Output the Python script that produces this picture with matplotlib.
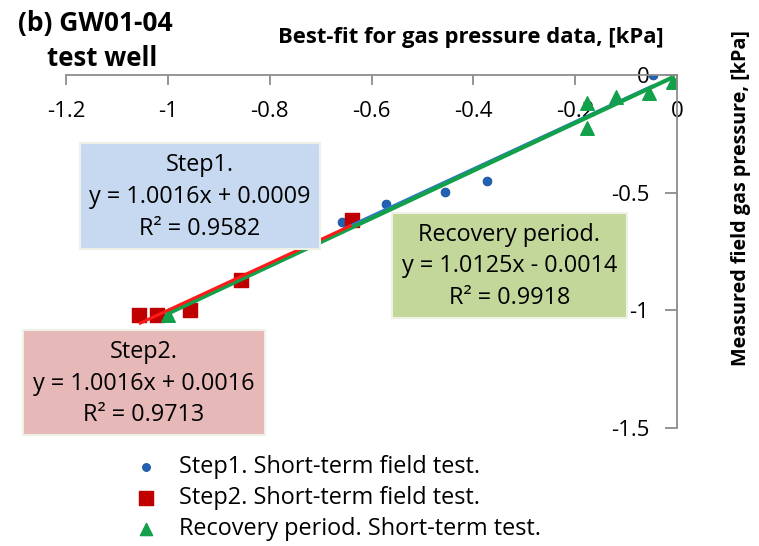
import numpy as np
import matplotlib
matplotlib.use("Agg")
import matplotlib.pyplot as plt
from matplotlib.patches import Rectangle

plt.rcParams['font.family'] = ['Open Sans', 'DejaVu Sans']

# data (kPa)
step1_x = [-0.047, -0.373, -0.455, -0.571, -0.657]
step1_y = [0.0, -0.451, -0.498, -0.549, -0.625]
step2_x = [-1.057, -1.022, -0.957, -0.857, -0.639]
step2_y = [-1.021, -1.021, -1.0, -0.872, -0.617]
recov_x = [-1.0, -0.176, -0.176, -0.12, -0.055, -0.008]
recov_y = [-1.02, -0.12, -0.226, -0.094, -0.077, -0.03]

# trendline coefficients (slope, intercept) and R^2 from the chart
step1_fit = [1.0016, 0.0009]
step2_fit = [1.0016, 0.0016]
recov_fit = [1.0125, -0.0014]
step1_r2 = 0.9582
step2_r2 = 0.9713
recov_r2 = 0.9918

xticks = [-1.2, -1.0, -0.8, -0.6, -0.4, -0.2, 0.0]
yticks = [-1.5, -1.0, -0.5, 0.0]

W, H = 759, 546
fig = plt.figure(figsize=(W / 100, H / 100), dpi=100)
ax = fig.add_axes([66 / W, 1 - 428 / H, (677 - 66) / W, (428 - 75) / H])

blue, red, green = '#1f62b6', '#c00000', '#12a04a'

ax.scatter(step1_x, step1_y, s=40, marker='o', color=blue, edgecolors='#1a4f90',
           linewidths=0.6, zorder=2, label='Step1. Short-term field test.')
ax.scatter(step2_x, step2_y, s=110, marker='s', color=red, zorder=2,
           label='Step2. Short-term field test.')
ax.scatter(recov_x, recov_y, s=95, marker='^', color=green, zorder=2,
           label='Recovery period. Short-term test.')


def trend(xs, coef, color, lw, z):
    xr = np.array([min(xs), max(xs)])
    ax.plot(xr, np.polyval(coef, xr), color=color, lw=lw, zorder=z,
            solid_capstyle='butt')


trend(step1_x, step1_fit, '#2f78cc', 2.4, 3)
trend(recov_x, recov_fit, '#12a04a', 3.0, 4)
trend(step2_x, step2_fit, '#ff1a1a', 2.2, 5)

ax.set_xlim(-1.2, 0)
ax.set_ylim(-1.5, 0)
ax.spines['bottom'].set_position(('data', 0))
ax.spines['left'].set_position(('data', 0))
ax.spines['top'].set_visible(False)
ax.spines['right'].set_visible(False)
for s in ('bottom', 'left'):
    ax.spines[s].set_color('#8c8c8c')
    ax.spines[s].set_linewidth(1.3)
ax.set_xticks(xticks)
ax.set_yticks(yticks)
ax.set_xticklabels(['%g' % v for v in xticks])
ax.set_yticklabels(['%g' % v for v in yticks])
ax.tick_params(axis='x', direction='out', length=7, width=1.3, color='#8c8c8c',
               pad=12, labelsize=16)
ax.tick_params(axis='y', direction='out', length=9, width=1.3, color='#8c8c8c',
               pad=11, labelsize=16)
ax.patch.set_alpha(0)


def px(x, y):
    return x / W, 1 - y / H


def box(x0, y0, x1, y1, fc, lines):
    fig.patches.append(Rectangle(px(x0, y1), (x1 - x0) / W, (y1 - y0) / H,
                                 transform=fig.transFigure, facecolor=fc,
                                 edgecolor='#eef2e6', lw=1.5, zorder=6))
    fig.text(*px((x0 + x1) / 2, (y0 + y1) / 2 + 1), lines, ha='center',
             va='center', fontsize=16.8, linespacing=1.42, zorder=7)


box(80, 143, 320, 249, '#c6d9f0',
    'Step1.\ny = %.4fx + %.4f\nR² = %.4f' % (step1_fit[0], step1_fit[1], step1_r2))
box(392, 213, 627, 318, '#c4d79b',
    'Recovery period.\ny = %.4fx - %.4f\nR² = %.4f' % (recov_fit[0], -recov_fit[1], recov_r2))
box(23, 330, 265, 435, '#e6b9b8',
    'Step2.\ny = %.4fx + %.4f\nR² = %.4f' % (step2_fit[0], step2_fit[1], step2_r2))

fig.text(*px(471, 37), 'Best-fit for gas pressure data, [kPa]', ha='center',
         va='center', fontsize=15.8, fontweight='bold')
fig.text(*px(18, 24), '(b) GW01-04', ha='left', va='center', fontsize=19,
         fontweight='bold')
fig.text(*px(47, 58), 'test well', ha='left', va='center', fontsize=18.5,
         fontweight='bold')
fig.text(*px(741, 198), 'Measured field gas pressure, [kPa]', ha='center',
         va='center', rotation=90, fontsize=14.2, fontweight='bold')

fig.legend(loc='upper left', bbox_to_anchor=px(111, 443), frameon=False,
           fontsize=16.9, handletextpad=0.4, labelspacing=0.3, borderpad=0,
           scatterpoints=1, markerscale=0.9)

fig.savefig('out.png', dpi=100)
